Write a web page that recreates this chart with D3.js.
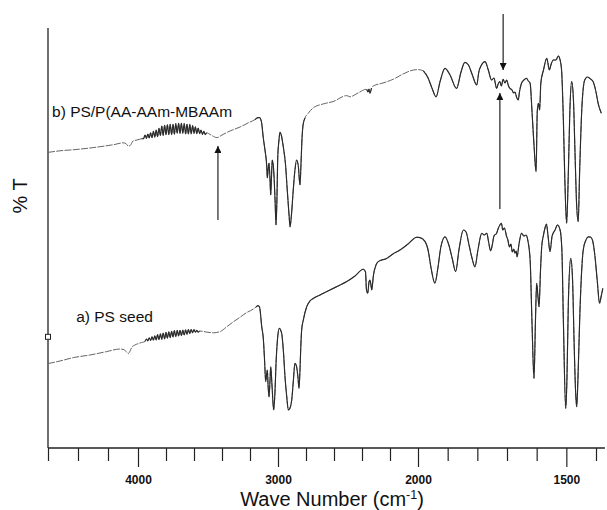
<!DOCTYPE html>
<html>
<head>
<meta charset="utf-8">
<script src="https://cdn.jsdelivr.net/npm/d3@7/dist/d3.min.js"></script>
<style>
  html, body { margin: 0; padding: 0; background: #fff; }
  svg { display: block; font-family: "Liberation Sans", Arial, sans-serif; }
</style>
</head>
<body>
<svg id="chart" width="607" height="510"></svg>
<script>
// ---- Data (wave number in cm-1, transmittance in arbitrary % T units) ----
const waveB = [4600,4520,4420,4320,4220,4153,4100,4080,4065,4053,4033,4007,3975,
  3960,3950,3940,3930,3920,3910,3900,3890,3880,3870,3860,3850,3840,3830,3820,3810,3800,3790,3780,3770,3760,3750,3740,3730,3720,3710,3700,3690,3680,3670,3660,3650,3640,3630,3620,3610,3600,3590,3580,3570,3560,3550,3540,3530,3520,3510,
  3479,3436,3400,3343,3271,3200,3164,3143,3132,3118,3105,3093,3081,3076,3071,3064,3057,3052,3046,3041,3031,3021,3014,3007,3002,2993,2986,2975,2962,2946,2934,2921,2914,2904,2891,2879,2867,2855,2843,2836,2829,2821,2807,2786,2750,2679,2607,2509,2486,2429,2367,2357,2350,2343,2332,2319,2250,2176,2107,2033,2000,
  1982,1966,1953,1939,1926,1909,1892,1870,1855,1842,1830,1818,1802,1795,1786,1774,1763,1752,1744,1735,1730,1724,1719,1713,1707,1701,1695,1690,1683,1678,1673,1668,1662,1658,1651,1643,1634,1628,1622,1616,1609,1602,1598,1594,1590,1586,1577,1566,1557,1552,1544,1535,1527,1521,1516,1510,1505,1499,1493,1488,1482,1476,1471,1466,1460,1455,1448,1438,1429,1421,1410,1400,1393,1382];
const transB = [73.9,74.3,74.6,75.0,75.5,75.9,76.3,76.1,75.5,75.6,76.75,77.0,77.3,
  77.35,78.25,77.4,78.5,77.5,78.8,77.6,79.2,77.7,79.5,77.85,79.9,78.15,80.5,78.15,80.7,78.35,80.8,78.35,80.9,78.35,80.9,78.45,81.1,78.7,81.2,78.65,81.2,78.65,81.1,78.5,80.95,78.5,80.9,78.55,80.6,78.65,80.3,78.6,80.0,78.6,79.5,78.4,79.2,78.35,78.8,
  78.25,77.6,78.25,79.25,80.25,81.5,82.1,82.6,82.6,81.5,77.5,74.5,70.75,67.5,69.5,71.25,67.0,63.25,68.25,72.0,69.5,62.0,55.75,63.25,72.5,77.0,78.9,78.0,75.25,70.75,64.5,58.25,55.3,58.25,64.5,69.5,72.0,70.5,65.75,70.75,77.0,80.75,82.5,83.6,85.0,86.0,86.6,88.1,87.8,88.75,89.7,89.0,89.75,88.7,90.0,90.5,91.25,92.2,93.5,94.5,94.6,
  94.3,92.5,90.0,87.8,91.5,94.9,93.25,89.9,94.0,96.4,95.75,93.5,90.75,94.0,95.75,96.6,94.5,92.0,92.5,89.9,91.0,91.6,90.5,92.2,91.25,92.0,90.5,89.9,89.5,88.75,89.0,87.75,87.0,89.0,91.2,92.0,92.4,91.75,91.2,84.5,75.75,69.1,84.1,86.2,84.5,91.2,94.5,97.4,94.5,95.75,97.0,97.0,98.0,97.0,94.5,82.0,67.0,56.2,69.5,84.5,91.6,87.0,74.5,62.0,56.6,69.5,84.5,92.0,92.75,92.4,91.6,89.0,86.2,83.7];

const waveA = [4600,4520,4431,4320,4209,4120,4093,4077,4065,4053,4040,4020,3986,
  3950,3940,3930,3920,3910,3900,3890,3880,3870,3860,3850,3840,3830,3820,3810,3800,3790,3780,3770,3760,3750,3740,3730,3720,3710,3700,3690,3680,3670,3660,3650,3640,3630,3620,3610,3600,3590,3580,3570,3560,
  3514,3462,3414,3366,3321,3271,3229,3176,3157,3143,3132,3116,3105,3096,3088,3082,3076,3071,3064,3057,3052,3043,3031,3021,3014,3004,2991,2974,2961,2950,2938,2926,2914,2902,2891,2879,2867,2857,2850,2843,2838,2831,2819,2795,2771,2748,2700,2629,2571,2509,2450,2391,2375,2368,2359,2350,2343,2336,2331,2318,2300,2284,2224,2179,2129,2071,2009,
  1993,1976,1966,1956,1943,1933,1923,1909,1896,1885,1873,1862,1847,1838,1828,1818,1808,1798,1785,1777,1768,1762,1755,1749,1744,1735,1729,1724,1719,1714,1709,1701,1697,1692,1687,1682,1677,1673,1669,1666,1660,1651,1643,1636,1630,1622,1616,1609,1604,1600,1596,1592,1587,1583,1577,1572,1567,1562,1555,1548,1538,1530,1521,1515,1510,1502,1498,1493,1485,1479,1474,1469,1465,1461,1454,1443,1434,1426,1419,1412,1404,1396,1388,1383,1377];
const transA = [21.1,21.75,22.6,23.25,24.1,24.75,24.6,24.0,23.6,24.25,25.25,25.75,26.25,
  26.65,27.25,26.8,27.55,26.9,27.8,26.95,28.05,27.0,28.35,27.1,28.55,27.15,28.75,27.3,28.9,27.45,29.05,27.6,29.2,27.75,29.35,27.85,29.4,28.0,29.45,28.1,29.5,28.25,29.55,28.4,29.6,28.6,29.6,28.8,29.6,28.95,29.45,28.95,29.25,
  29.0,28.8,29.1,30.3,31.5,32.7,33.75,34.75,35.25,35.6,35.25,30.3,27.4,22.0,16.6,18.25,19.5,15.75,12.8,17.0,20.3,15.75,9.5,14.5,21.2,27.0,29.9,28.7,24.0,17.8,13.0,9.5,10.0,12.0,16.5,21.2,20.3,17.5,14.9,19.5,24.5,29.5,32.0,35.3,36.8,37.4,38.25,39.5,40.5,41.6,43.0,44.7,44.0,39.5,38.7,41.5,42.0,40.75,39.5,43.25,45.75,46.6,47.4,48.5,49.5,51.0,52.7,
  52.6,51.6,49.5,45.0,41.2,45.0,50.25,52.8,50.75,47.5,44.1,49.5,54.5,54.0,50.75,47.5,45.3,49.5,53.7,53.25,53.7,51.5,49.3,51.0,53.0,53.7,55.0,55.75,56.2,54.5,55.0,52.8,52.0,50.25,51.0,49.0,49.75,48.7,49.25,47.8,50.75,53.7,53.0,53.25,52.0,47.0,32.0,17.4,32.0,41.2,38.25,35.3,44.5,50.3,53.25,55.0,56.0,53.25,49.1,53.0,54.5,55.75,54.5,49.5,32.0,9.9,17.0,37.0,47.4,42.0,27.0,14.5,10.3,17.0,34.5,49.5,52.0,52.8,52.75,52.0,48.25,42.0,36.2,37.75,39.9];

// wave-number ranges where each scanned trace is dense and dark
const darkRangesB = [[3975, 3500], [3165, 2805], [2372, 2325], [1990, 1370]];
const darkRangesA = [[3955, 3555], [3165, 1370]];

// arrows: [wave number, start value, tip value]
const arrowWave  = [3429, 1724, 1713];
const arrowStart = [57.0, 59.75, 108.5];
const arrowTip   = [75.5, 88.75, 94.5];

const majorTicks = [4000, 3000, 2000, 1500];
const minorTicks = [4600, 4400, 4200, 3800, 3600, 3400, 3200, 2800, 2600, 2400, 2200, 1900, 1800, 1700, 1600, 1400];
const seriesLabels = ["b) PS/P(AA-AAm-MBAAm", "a) PS seed"];
const labelPos = [[4573, 82.7], [4412, 31.6]];
const markerPoint = [4600, 27.8];
const axisStart = 4600, axisEnd = 1370;

// ---- Scales ----
const svg = d3.select("#chart");
const x = d3.scaleLinear().domain([4600, 4000, 2000, 1400]).range([48, 138, 418, 596]);
const y = d3.scaleLinear().domain([0, 105]).range([448, 28]);

// ---- Axes ----
const gx = svg.append("g").attr("transform", `translate(0,${y(0)})`);
gx.append("line").attr("x1", x(axisStart)).attr("x2", x(axisEnd)).attr("y1", 0).attr("y2", 0)
  .attr("stroke", "#222").attr("stroke-width", 1.3);
const minorAxis = d3.axisBottom(x).tickValues(minorTicks).tickSize(13).tickFormat("");
const majorAxis = d3.axisBottom(x).tickValues(majorTicks).tickSize(19).tickPadding(8).tickFormat(d3.format("d"));
const gMinor = gx.append("g").call(minorAxis);
const gMajor = gx.append("g").call(majorAxis);
[gMinor, gMajor].forEach(g => {
  g.select(".domain").remove();
  g.selectAll(".tick line").attr("stroke", "#222").attr("stroke-width", 1.2);
});
gMajor.selectAll(".tick text").attr("fill", "#111").attr("font-size", "12px").attr("font-weight", "bold")
  .attr("font-family", "'Liberation Sans', Arial, sans-serif");

svg.append("line").attr("x1", x(axisStart)).attr("x2", x(axisStart)).attr("y1", y(0)).attr("y2", y(105))
  .attr("stroke", "#222").attr("stroke-width", 1.3);

// axis titles
const xt = svg.append("text").attr("x", 332).attr("y", 506).attr("text-anchor", "middle")
  .attr("font-size", "20px").attr("fill", "#111");
xt.append("tspan").text("Wave Number (cm");
xt.append("tspan").attr("dy", -7).attr("font-size", "12.5px").text("-1");
xt.append("tspan").attr("dy", 7).text(")");

svg.append("text").attr("transform", "translate(27,196) rotate(-90)").attr("text-anchor", "middle")
  .attr("font-size", "20px").attr("fill", "#111").text("% T");

// ---- Spectra ----
const line = d3.line().x(d => x(d[0])).y(d => y(d[1])).curve(d3.curveMonotoneX);
const specB = waveB.map((w, i) => [w, transB[i]]);
const specA = waveA.map((w, i) => [w, transA[i]]);
[[specB, darkRangesB], [specA, darkRangesA]].forEach(([s, ranges]) => {
  // faint, broken-looking base trace
  svg.append("path").datum(s).attr("d", line).attr("fill", "none")
    .attr("stroke", "#666").attr("stroke-width", 1).attr("stroke-dasharray", "7,1.3")
    .attr("stroke-linejoin", "round");
  // dense dark parts of the trace
  ranges.forEach(r => {
    const part = s.filter(d => d[0] <= r[0] && d[0] >= r[1]);
    svg.append("path").datum(part).attr("d", line).attr("fill", "none")
      .attr("stroke", "#2a2a2a").attr("stroke-width", 1.15).attr("stroke-linejoin", "round");
  });
});

// series labels
seriesLabels.forEach((t, i) => {
  svg.append("text").attr("x", x(labelPos[i][0])).attr("y", y(labelPos[i][1]))
    .attr("font-size", "15.5px").attr("fill", "#111").text(t);
});

// small square marker on the y axis
svg.append("rect").attr("x", x(markerPoint[0]) - 2.5).attr("y", y(markerPoint[1]) - 2.5)
  .attr("width", 5).attr("height", 5).attr("fill", "#fff").attr("stroke", "#222").attr("stroke-width", 1);

// ---- Arrows ----
const defs = svg.append("defs");
defs.append("marker").attr("id", "ah").attr("viewBox", "0 0 10 10").attr("refX", 10).attr("refY", 5)
  .attr("markerWidth", 7).attr("markerHeight", 7).attr("markerUnits", "userSpaceOnUse").attr("orient", "auto")
  .append("path").attr("d", "M0,0 L10,5 L0,10 Z").attr("fill", "#111");
arrowWave.forEach((w, i) => {
  svg.append("line").attr("x1", x(w)).attr("x2", x(w)).attr("y1", y(arrowStart[i])).attr("y2", y(arrowTip[i]))
    .attr("stroke", "#222").attr("stroke-width", 1.2).attr("marker-end", "url(#ah)");
});
</script>
</body>
</html>
